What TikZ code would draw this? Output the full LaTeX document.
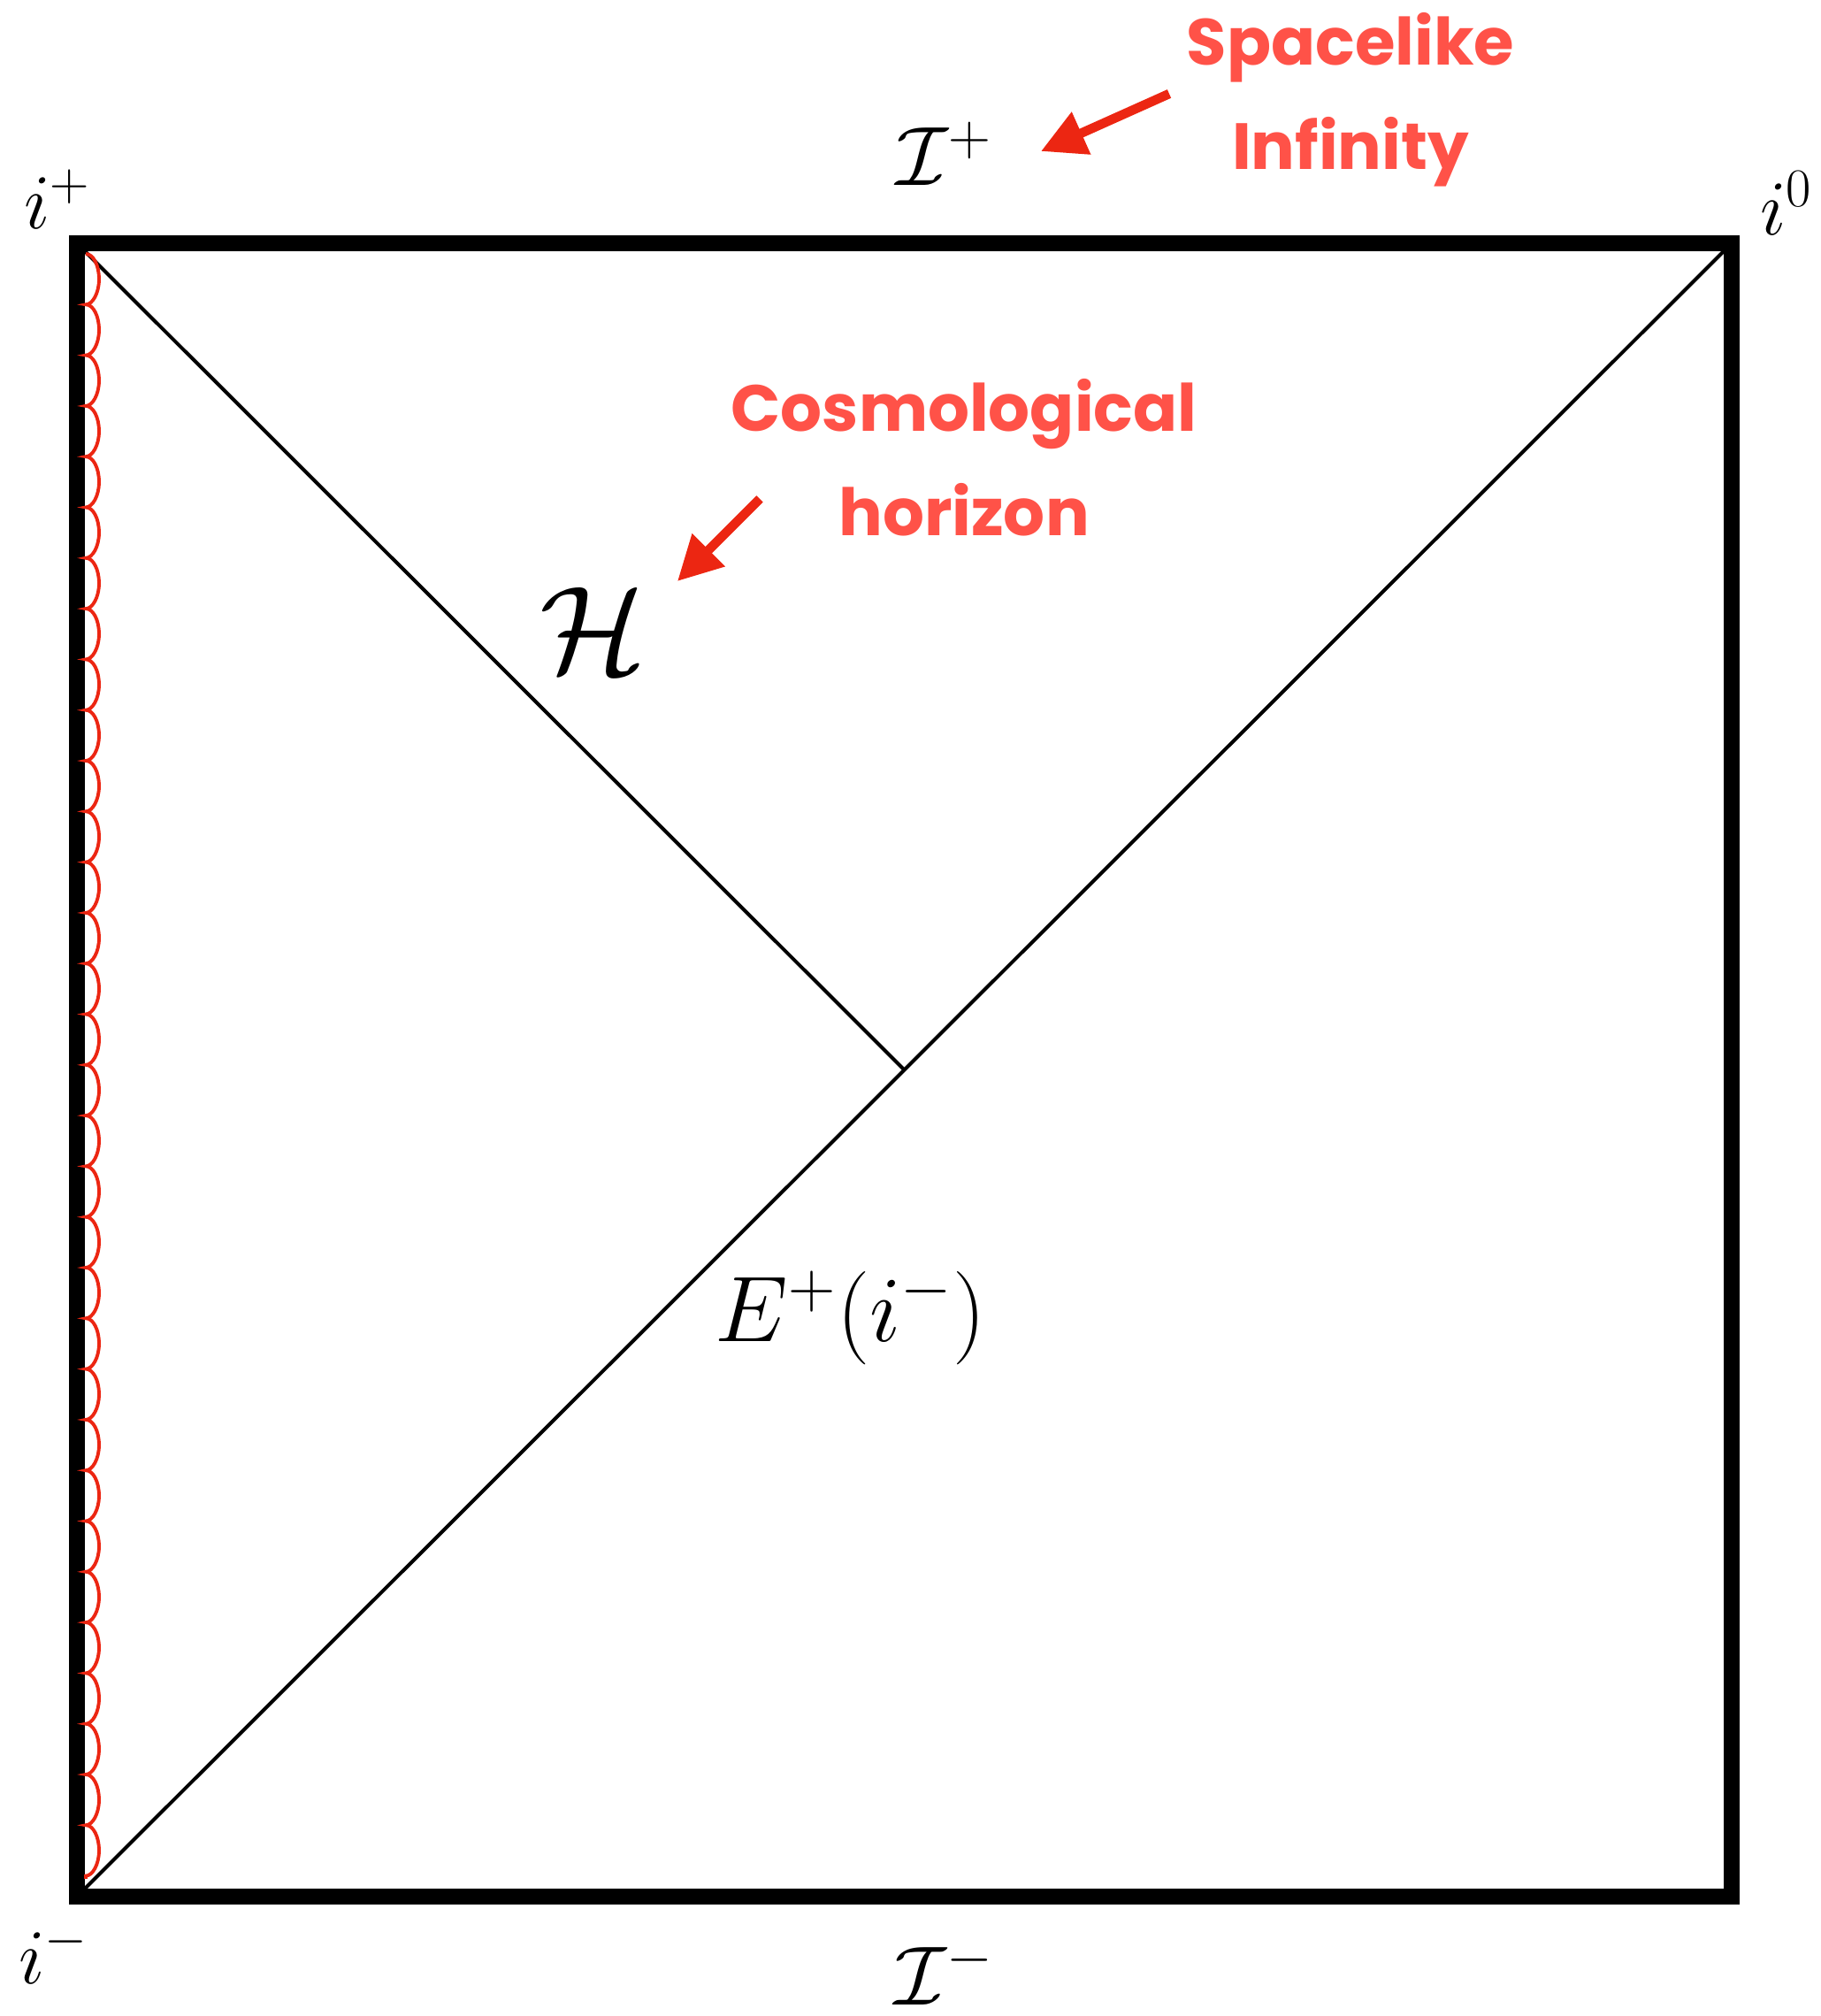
\RequirePackage{fix-cm}
\documentclass[tikz,border=0pt]{standalone}
\usepackage{amsmath}
\usepackage{fontspec}
\usepackage{tikz}
\usetikzlibrary{arrows.meta, decorations.pathmorphing}
\newfontfamily\notefont{Poppins}
\definecolor{notered}{RGB}{255, 82, 72}
\definecolor{arrowred}{RGB}{236, 38, 18}

\begin{document}
\begin{tikzpicture}[
    lab/.style={font=\fontsize{25}{30}\selectfont},
    biglab/.style={font=\fontsize{40}{48}\selectfont},
    note/.style={text=notered, align=center,
        font=\notefont\bfseries\fontsize{21}{33.5}\selectfont},
    pointer/.style={arrowred, line width=3pt,
        -{Triangle[length=0.5cm, width=0.5cm]}},
    wall/.style={line width=5.1pt},
    null/.style={line width=1.15pt},
    wiggle/.style={arrowred, line width=1.1pt, decorate,
        decoration={bumps, segment length=1.146cm, amplitude=0.15cm}}
]
    \useasboundingbox (0, 0) rectangle (20.59, 22.79);

    % ==========================================
    % COORDINATES
    % ==========================================
    % Corners of the diagram
    \coordinate (im) at (0.87, 1.35);      % past timelike infinity
    \coordinate (ip) at (0.87, 20.04);     % future timelike infinity
    \coordinate (izero) at (19.58, 20.04); % spatial infinity
    \coordinate (corner) at (19.58, 1.35);

    % Where the horizon meets E+(i-)
    \coordinate (meet) at (10.225, 10.695);

    % Ends of the wavy line
    \coordinate (wav_top) at (0.97, 19.92);
    \coordinate (wav_bot) at (0.97, 1.55);

    % Arrow ends
    \coordinate (spc_tail) at (13.22, 21.73);
    \coordinate (spc_head) at (11.77, 21.08);
    \coordinate (hor_tail) at (8.59, 17.15);
    \coordinate (hor_head) at (7.66, 16.22);


    % ==========================================
    % BOUNDARY
    % ==========================================
    \draw[wall] (im) -- (ip) -- (izero) -- (corner) -- cycle;


    % ==========================================
    % NULL LINES
    % ==========================================
    \draw[null] (im) -- (izero);
    \draw[null] (ip) -- (meet);

    % Wavy line along the left edge
    \draw[wiggle] (wav_top) -- (wav_bot);


    % ==========================================
    % LABELS
    % ==========================================
    \node[lab] (lab_ip) at (0.65, 20.54) {$i^+$};
    \node[lab] (lab_i0) at (20.20, 20.49) {$i^0$};
    \node[lab] (lab_im) at (0.61, 0.70) {$i^-$};
    \node[lab, font=\fontsize{27}{32}\selectfont] (scri_p) at (10.68, 21.05) {$\mathcal{I}^+$};
    \node[lab, font=\fontsize{27}{32}\selectfont] (scri_m) at (10.68, 0.49) {$\mathcal{I}^-$};
    \node[biglab] (hor) at (6.71, 15.67) {$\mathcal{H}$};
    \node[lab, font=\fontsize{30}{36}\selectfont] (epast) at (9.62, 7.90) {$E^+(i^-)$};


    % ==========================================
    % NOTES (Red)
    % ==========================================
    \node[note] (spacelike) at (15.27, 21.66) {Spacelike\\Infinity};
    \node[note] (cosmo) at (10.90, 17.62) {Cosmological\\horizon};

    \draw[pointer] (spc_tail) -- (spc_head);
    \draw[pointer] (hor_tail) -- (hor_head);

\end{tikzpicture}
\end{document}
